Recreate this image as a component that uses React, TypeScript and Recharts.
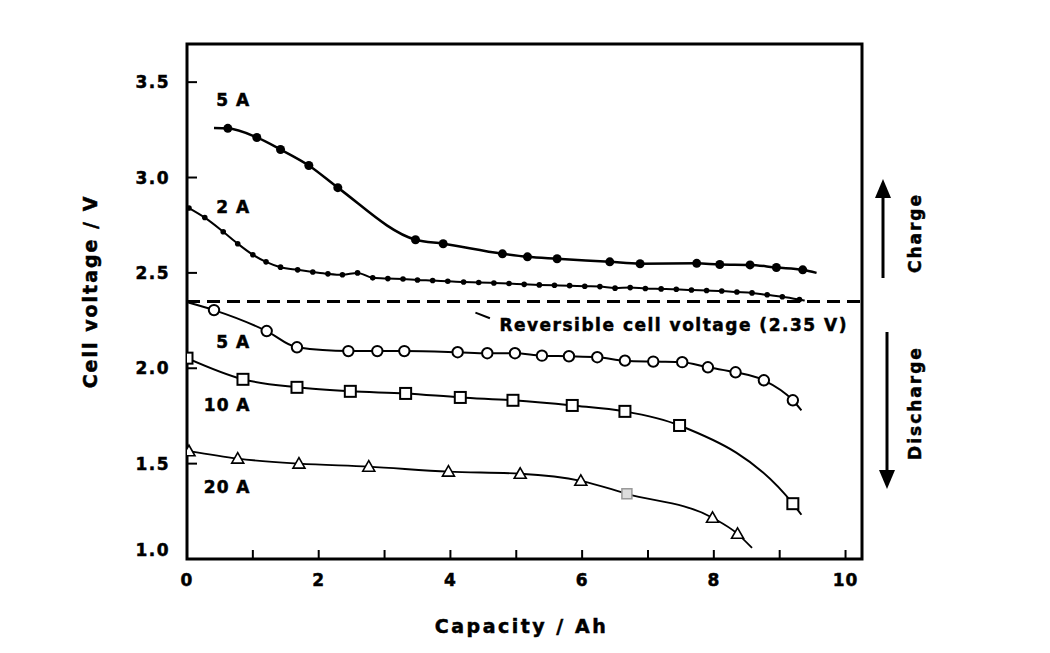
import React from 'react'
import { LineChart, Line, XAxis, YAxis, ReferenceLine, ReferenceArea, ReferenceDot } from 'recharts'

// charge curves (filled markers)
const charge5Cap = [0.41, 0.62, 1.06, 1.42, 1.85, 2.29, 3.47, 3.89, 4.79, 5.17, 5.62, 6.42, 6.88, 7.74, 8.09, 8.55, 8.95, 9.35, 9.56]
const charge5Volt = [3.26, 3.258, 3.21, 3.147, 3.063, 2.947, 2.674, 2.653, 2.6, 2.584, 2.574, 2.558, 2.548, 2.55, 2.544, 2.542, 2.528, 2.516, 2.5]

const charge2Cap = [0.03, 0.27, 0.55, 0.77, 1.0, 1.2, 1.42, 1.68, 1.91, 2.14, 2.36, 2.59, 2.82, 3.05, 3.28, 3.5, 3.73, 3.96, 4.2, 4.43, 4.66, 4.89, 5.12, 5.35, 5.58, 5.81, 6.04, 6.27, 6.5, 6.73, 6.96, 7.2, 7.43, 7.66, 7.89, 8.12, 8.35, 8.58, 8.81, 9.04, 9.3, 9.38]
const charge2Volt = [2.84, 2.79, 2.716, 2.653, 2.595, 2.558, 2.53, 2.516, 2.505, 2.495, 2.49, 2.5, 2.474, 2.47, 2.468, 2.463, 2.46, 2.456, 2.452, 2.45, 2.447, 2.444, 2.44, 2.437, 2.435, 2.433, 2.43, 2.428, 2.42, 2.423, 2.418, 2.416, 2.414, 2.41, 2.408, 2.405, 2.4, 2.395, 2.385, 2.375, 2.36, 2.355]

// discharge curves (open markers)
const discharge5Cap = [0.02, 0.41, 1.21, 1.67, 2.45, 2.89, 3.3, 4.11, 4.56, 4.98, 5.39, 5.8, 6.23, 6.65, 7.08, 7.52, 7.91, 8.33, 8.76, 9.2, 9.33]
const discharge5Volt = [2.345, 2.305, 2.195, 2.11, 2.09, 2.09, 2.09, 2.084, 2.079, 2.079, 2.066, 2.063, 2.058, 2.04, 2.035, 2.032, 2.005, 1.979, 1.937, 1.832, 1.779]

const discharge10Cap = [0, 0.85, 1.67, 2.48, 3.32, 4.15, 4.95, 5.85, 6.65, 7.48, 9.2, 9.33]
const discharge10Volt = [2.053, 1.942, 1.9, 1.879, 1.868, 1.847, 1.832, 1.805, 1.774, 1.7, 1.29, 1.232]

const discharge20Cap = [0.03, 0.77, 1.7, 2.76, 3.97, 5.06, 5.98, 6.68, 7.98, 8.36, 8.58]
const discharge20Volt = [1.565, 1.526, 1.5, 1.484, 1.458, 1.447, 1.41, 1.342, 1.216, 1.132, 1.058]

const xTicks = [0, 1, 2, 3, 4, 5, 6, 7, 8, 9, 10]
const yTicks = [1.0, 1.5, 2.0, 2.5, 3.0, 3.5]
const reversibleVoltage = 2.35

const curveLabels = [
  { text: '5 A', cap: 0.7, volt: 3.405 },
  { text: '2 A', cap: 0.7, volt: 2.847 },
  { text: '5 A', cap: 0.7, volt: 2.137 },
  { text: '10 A', cap: 0.61, volt: 1.81 },
  { text: '20 A', cap: 0.61, volt: 1.379 },
]

const FONT = '"DejaVu Sans", sans-serif'

const toPoints = (cap: number[], volt: number[]) => cap.map((c, i) => ({ c, v: volt[i] }))

type Marker = 'filled' | 'small' | 'circle' | 'square' | 'triangle'

const series = [
  { key: 'c5', data: toPoints(charge5Cap, charge5Volt), marker: 'filled' as Marker, bareStart: true, bareEnd: true, width: 2.5 },
  { key: 'c2', data: toPoints(charge2Cap, charge2Volt), marker: 'small' as Marker, bareStart: false, bareEnd: true, width: 2 },
  { key: 'd5', data: toPoints(discharge5Cap, discharge5Volt), marker: 'circle' as Marker, bareStart: true, bareEnd: true, width: 2 },
  { key: 'd10', data: toPoints(discharge10Cap, discharge10Volt), marker: 'square' as Marker, bareStart: false, bareEnd: true, width: 2 },
  { key: 'd20', data: toPoints(discharge20Cap, discharge20Volt), marker: 'triangle' as Marker, bareStart: false, bareEnd: true, width: 1.8 },
]

const makeDot = (marker: Marker, n: number, bareStart: boolean, bareEnd: boolean) => (props: any) => {
  const { cx, cy, index } = props
  if ((bareStart && index === 0) || (bareEnd && index === n - 1)) return <g key={index} />
  switch (marker) {
    case 'filled':
      return <circle key={index} cx={cx} cy={cy} r={4.5} fill="#000" />
    case 'small':
      return <circle key={index} cx={cx} cy={cy} r={2.8} fill="#000" />
    case 'circle':
      return <circle key={index} cx={cx} cy={cy} r={5.2} fill="#fff" stroke="#000" strokeWidth={2} />
    case 'square':
      return <rect key={index} x={cx - 5.5} y={cy - 5.5} width={11} height={11} fill="#fff" stroke="#000" strokeWidth={2} />
    default:
      // one point of the 20 A curve is printed as a faint grey square in the original
      if (index === 7) {
        return <rect key={index} x={cx - 5} y={cy - 5} width={10} height={10} fill="#ddd" stroke="#999" strokeWidth={1.5} />
      }
      return (
        <polygon
          key={index}
          points={`${cx},${cy - 6} ${cx - 6},${cy + 4.5} ${cx + 6},${cy + 4.5}`}
          fill="#fff"
          stroke="#000"
          strokeWidth={1.6}
        />
      )
  }
}

const textStyle = { fontFamily: FONT, fontWeight: 700, fill: '#000', stroke: '#000', strokeWidth: 0.5 }

const XTick = (props: any) => {
  const { x, y, payload } = props
  const v = payload.value
  return (
    <g>
      <line x1={x} y1={y} x2={x} y2={y - 9} stroke="#000" strokeWidth={2} />
      {v % 2 === 0 && (
        <text x={x} y={y + 27} textAnchor="middle" fontSize={17} letterSpacing={1} {...textStyle}>
          {v}
        </text>
      )}
    </g>
  )
}

const YTick = (props: any) => {
  const { x, y, payload } = props
  const v = payload.value
  return (
    <g>
      <line x1={x} y1={y} x2={x + 10} y2={y} stroke="#000" strokeWidth={2} />
      <text x={x - 17} y={y + (v === 1 ? -3 : 6)} textAnchor="end" fontSize={17} letterSpacing={1.5} {...textStyle}>
        {v.toFixed(1)}
      </text>
    </g>
  )
}

const centered = (text: string, size: number, spacing: number) => (props: any) => {
  const vb = props.viewBox || {}
  const cx = vb.x + (vb.width || 0) / 2
  const cy = vb.y + (vb.height || 0) / 2
  return (
    <text x={cx} y={cy} textAnchor="middle" dominantBaseline="central" fontSize={size} letterSpacing={spacing} {...textStyle}>
      {text}
    </text>
  )
}

export default function App() {
  return (
    <div style={{ position: 'absolute', left: 0, top: 0, width: 1050, height: 653, background: '#fff' }}>
      <LineChart width={1050} height={653} margin={{ top: 44, right: 188, bottom: 14, left: 127 }}>
        <XAxis
          dataKey="c"
          type="number"
          domain={[0, 10.25]}
          ticks={xTicks}
          allowDataOverflow
          axisLine={false}
          tickLine={false}
          tickSize={0}
          tickMargin={0}
          tick={<XTick />}
          height={80}
          label={{
            content: (p: any) => (
              <text
                x={p.viewBox.x + p.viewBox.width / 2 - 3}
                y={p.viewBox.y + 67}
                textAnchor="middle"
                dominantBaseline="central"
                fontSize={19}
                letterSpacing={2.5}
                {...textStyle}
              >
                Capacity / Ah
              </text>
            ),
          }}
        />
        <YAxis
          type="number"
          domain={[1, 3.7]}
          ticks={yTicks}
          allowDataOverflow
          axisLine={false}
          tickLine={false}
          tickSize={0}
          tickMargin={0}
          tick={<YTick />}
          width={60}
          label={{
            content: (p: any) => {
              const cx = 90
              const cy = p.viewBox.y + p.viewBox.height / 2 - 10
              return (
                <text
                  x={cx}
                  y={cy}
                  transform={`rotate(-90 ${cx} ${cy})`}
                  textAnchor="middle"
                  dominantBaseline="central"
                  fontSize={19}
                  letterSpacing={2}
                  {...textStyle}
                >
                  Cell voltage / V
                </text>
              )
            },
          }}
        />
        <ReferenceArea x1={0} x2={10.25} y1={1} y2={3.7} fill="none" stroke="#000" strokeWidth={3} ifOverflow="visible" />
        <ReferenceLine y={reversibleVoltage} stroke="#000" strokeWidth={3} strokeDasharray="13 7" />
        <ReferenceLine
          segment={[
            { x: 4.38, y: 2.292 },
            { x: 4.6, y: 2.262 },
          ]}
          stroke="#000"
          strokeWidth={2}
        />
        <ReferenceDot
          x={7.39}
          y={2.226}
          r={0}
          fill="none"
          stroke="none"
          label={{ content: centered('Reversible cell voltage (2.35 V)', 17, 1.5) }}
        />
        {curveLabels.map((l, i) => (
          <ReferenceDot
            key={i}
            x={l.cap}
            y={l.volt}
            r={0}
            fill="none"
            stroke="none"
            label={{ content: centered(l.text, 17, 1) }}
          />
        ))}
        {series.map(s => (
          <Line
            key={s.key}
            data={s.data}
            dataKey="v"
            type="monotone"
            stroke="#000"
            strokeWidth={s.width}
            dot={makeDot(s.marker, s.data.length, s.bareStart, s.bareEnd)}
            activeDot={false}
            isAnimationActive={false}
          />
        ))}
      </LineChart>
      <svg width={1050} height={653} style={{ position: 'absolute', left: 0, top: 0, pointerEvents: 'none' }}>
        <line x1={883} y1={278} x2={883} y2={194} stroke="#000" strokeWidth={3} />
        <polygon points="883,179 875,198 891,198" fill="#000" />
        <line x1={887} y1={332} x2={887} y2={473} stroke="#000" strokeWidth={3} />
        <polygon points="887,489 879,470 895,470" fill="#000" />
        <text x={915} y={233} transform="rotate(-90 915 233)" textAnchor="middle" dominantBaseline="central" fontSize={17} letterSpacing={2} {...textStyle}>
          Charge
        </text>
        <text x={915} y={403} transform="rotate(-90 915 403)" textAnchor="middle" dominantBaseline="central" fontSize={17} letterSpacing={2} {...textStyle}>
          Discharge
        </text>
      </svg>
    </div>
  )
}
